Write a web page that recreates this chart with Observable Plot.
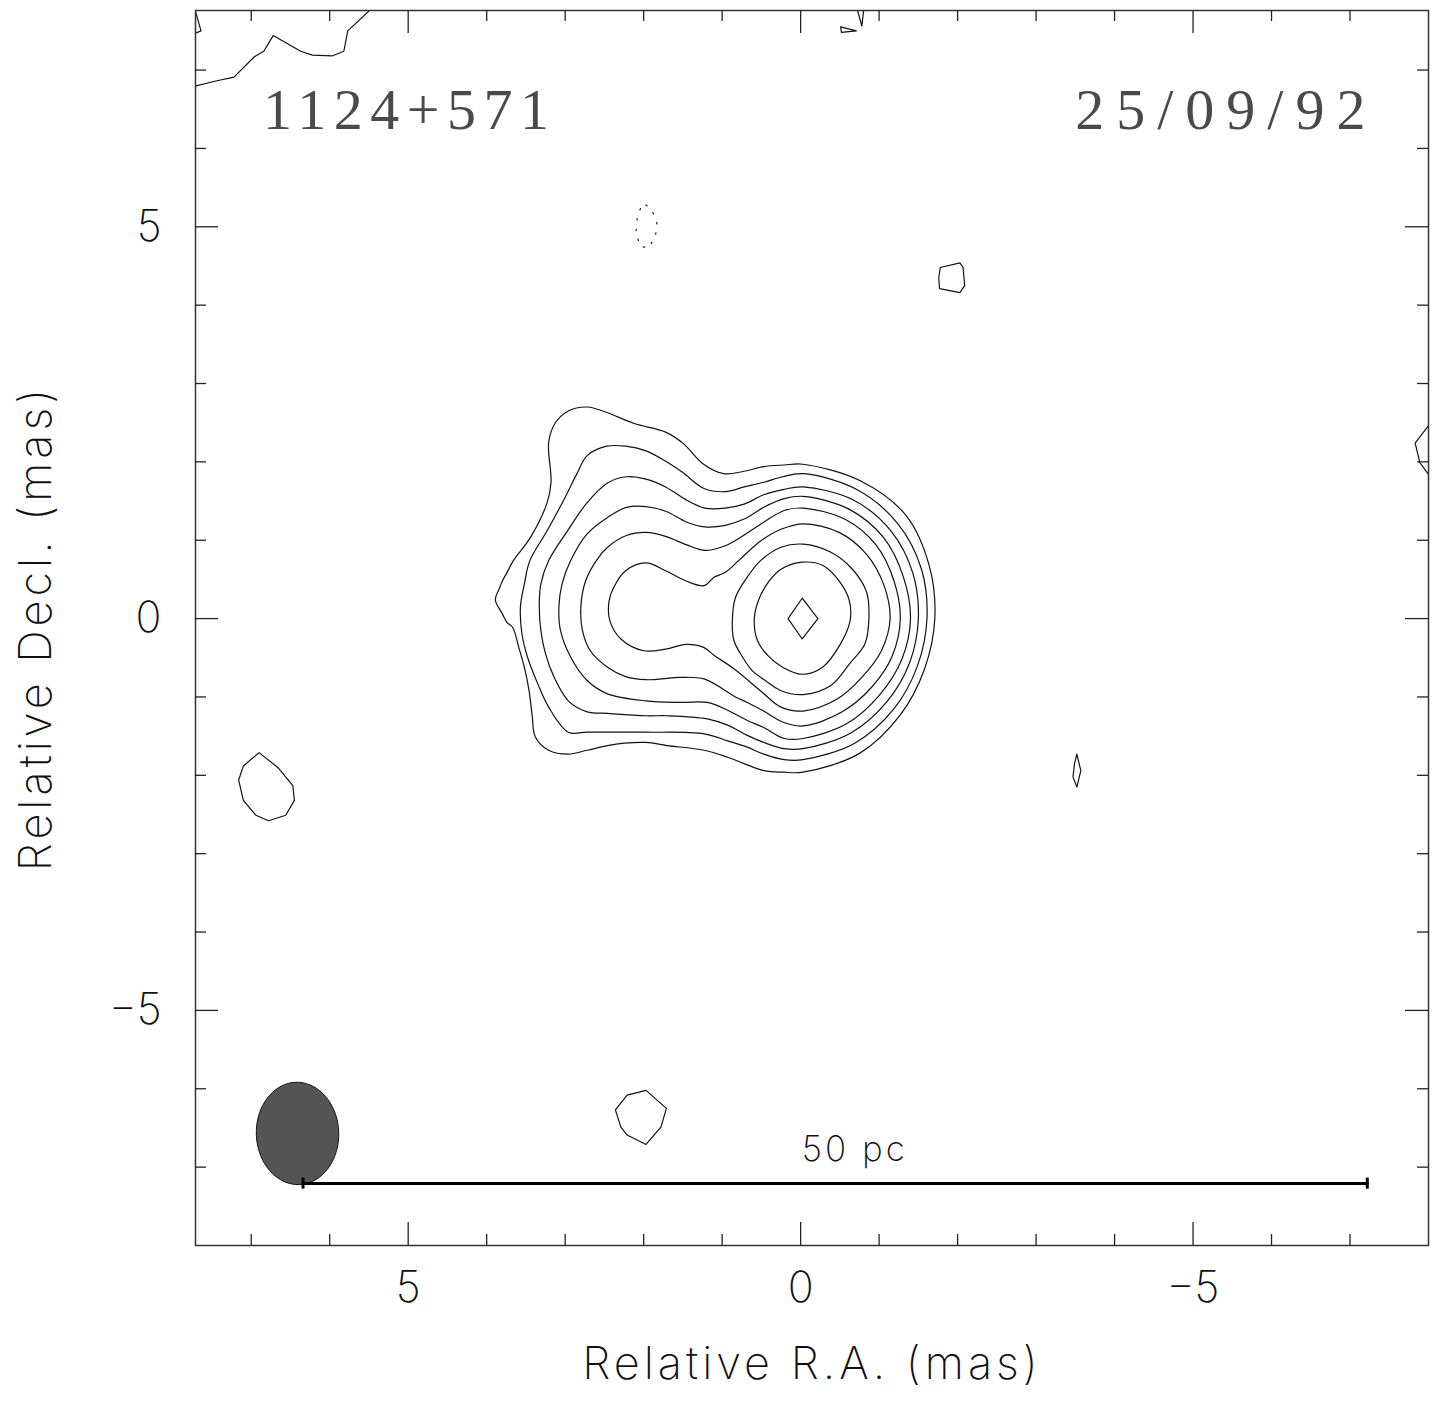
<!DOCTYPE html>
<html>
<head>
<meta charset="utf-8">
<script src="https://cdn.jsdelivr.net/npm/d3@7"></script>
<script src="https://cdn.jsdelivr.net/npm/@observablehq/plot@0.6"></script>
<style>
  html, body { margin: 0; padding: 0; background: #fff; }
  #chart svg { display: block; }
</style>
</head>
<body>
<div id="chart"></div>
<script>
// ---------- data (mas) ----------
const raRange = [7.71, -8.0];
const decRange = [-8.0, 7.76];
const majorTicks = [5, 0, -5];
const minorTicks = [7, 6, 4, 3, 2, 1, -1, -2, -3, -4, -6, -7];

const sourceName = "1124+571";
const epoch = "25/09/92";
const xTitle = "Relative R.A. (mas)";
const yTitle = "Relative Decl. (mas)";

// closed contours of the main source, outermost (1) to innermost (9)
const level1 = [[-0.03,1.97],[-0.76,1.76],[-1.34,1.32],[-1.64,0.67],[-1.71,0.00],[-1.58,-0.64],[-1.27,-1.23],[-0.75,-1.72],[-0.03,-1.96],
  [0.21,-1.96],[0.47,-1.94],[0.72,-1.85],[0.93,-1.77],[1.23,-1.68],[1.70,-1.62],[1.97,-1.58],[2.25,-1.59],[2.46,-1.62],[2.72,-1.68],[2.96,-1.73],[3.21,-1.68],[3.38,-1.51],[3.42,-1.24],[3.46,-0.92],[3.52,-0.62],[3.59,-0.37],[3.67,-0.11],[3.74,-0.05],[3.80,0.06],[3.89,0.24],[3.84,0.38],[3.80,0.48],[3.74,0.59],[3.66,0.74],[3.44,1.04],[3.23,1.48],[3.18,1.74],[3.21,2.25],[3.13,2.49],[2.96,2.65],[2.72,2.70],[2.47,2.63],[2.12,2.49],[1.72,2.38],[1.49,2.23],[1.25,1.98],[0.98,1.85],[0.72,1.88],[0.47,1.94],[0.21,1.96]];
const level2 = [[-0.03,1.85],[-0.71,1.65],[-1.24,1.21],[-1.54,0.63],[-1.61,0.00],[-1.49,-0.60],[-1.19,-1.15],[-0.69,-1.59],[-0.03,-1.80],
  [0.21,-1.80],[0.47,-1.73],[0.68,-1.64],[0.93,-1.56],[1.23,-1.47],[1.97,-1.45],[2.72,-1.45],[2.96,-1.45],[3.21,-1.13],[3.35,-0.83],[3.48,-0.49],[3.55,-0.20],[3.57,0.15],[3.52,0.44],[3.45,0.74],[3.23,1.12],[3.02,1.51],[2.85,1.85],[2.72,2.08],[2.47,2.20],[2.23,2.20],[1.97,2.14],[1.74,2.02],[1.51,1.87],[1.23,1.66],[0.96,1.62],[0.72,1.68],[0.47,1.74],[0.23,1.81]];
const level3 = [[-0.03,1.68],[-0.66,1.52],[-1.15,1.12],[-1.43,0.58],[-1.50,0.00],[-1.39,-0.56],[-1.10,-1.06],[-0.64,-1.46],[-0.03,-1.66],
  [0.21,-1.66],[0.47,-1.58],[0.68,-1.49],[0.93,-1.36],[1.19,-1.28],[1.70,-1.24],[1.97,-1.24],[2.46,-1.21],[2.72,-1.19],[2.96,-1.05],[3.14,-0.75],[3.25,-0.45],[3.31,-0.15],[3.33,0.15],[3.31,0.44],[3.21,0.74],[2.97,1.12],[2.72,1.48],[2.46,1.73],[2.22,1.81],[1.97,1.78],[1.72,1.68],[1.45,1.51],[1.22,1.41],[0.96,1.41],[0.72,1.46],[0.47,1.58],[0.21,1.65]];
const level4 = [[-0.03,1.56],[-0.61,1.40],[-1.06,1.03],[-1.31,0.53],[-1.40,0.00],[-1.29,-0.52],[-1.01,-0.97],[-0.59,-1.34],[-0.03,-1.53],
  [0.21,-1.53],[0.47,-1.39],[0.68,-1.30],[0.93,-1.17],[1.19,-1.07],[1.53,-1.07],[1.97,-1.05],[2.46,-0.96],[2.72,-0.79],[2.93,-0.49],[3.06,-0.15],[3.08,0.15],[3.04,0.44],[2.93,0.74],[2.72,1.08],[2.46,1.29],[2.22,1.42],[1.97,1.43],[1.72,1.37],[1.45,1.23],[1.22,1.17],[0.96,1.19],[0.72,1.27],[0.47,1.42],[0.21,1.53]];
const level5 = [[-0.03,1.41],[-0.56,1.27],[-0.96,0.94],[-1.19,0.48],[-1.27,0.00],[-1.17,-0.47],[-0.91,-0.87],[-0.53,-1.19],[-0.03,-1.37],
  [0.23,-1.32],[0.47,-1.18],[0.68,-1.07],[0.83,-1.00],[1.23,-0.77],[1.53,-0.75],[1.97,-0.78],[2.23,-0.74],[2.46,-0.62],[2.68,-0.41],[2.78,-0.15],[2.80,0.15],[2.74,0.48],[2.59,0.76],[2.46,0.91],[2.22,1.06],[1.97,1.10],[1.72,1.05],[1.45,0.94],[1.22,0.87],[0.96,0.93],[0.76,1.04],[0.47,1.23],[0.21,1.38]];
const level6 = [[-0.03,1.21],[-0.49,1.10],[-0.84,0.82],[-1.06,0.43],[-1.14,0.00],[-1.03,-0.41],[-0.78,-0.75],[-0.46,-1.03],[-0.03,-1.18],
  [0.25,-1.13],[0.49,-0.94],[0.85,-0.64],[1.10,-0.47],[1.23,-0.37],[1.46,-0.33],[1.72,-0.39],[2.00,-0.41],[2.29,-0.26],[2.43,-0.03],[2.44,0.23],[2.38,0.40],[2.23,0.61],[1.97,0.71],[1.72,0.61],[1.46,0.48],[1.23,0.42],[1.10,0.53],[0.96,0.59],[0.79,0.74],[0.51,0.99],[0.25,1.14]];
const level7 = [[-0.03,0.95],[-0.38,0.85],[-0.66,0.63],[-0.84,0.34],[-0.87,0.00],[-0.82,-0.32],[-0.62,-0.58],[-0.39,-0.85],[-0.03,-0.97],
  [0.25,-0.92],[0.45,-0.79],[0.62,-0.66],[0.74,-0.49],[0.85,-0.28],[0.87,-0.03],[0.83,0.27],[0.68,0.53],[0.51,0.74],[0.25,0.91]];
const level8 = [[-0.02,0.72],[-0.28,0.68],[-0.49,0.48],[-0.62,0.23],[-0.63,-0.03],[-0.51,-0.32],[-0.28,-0.62],[-0.02,-0.71],[0.23,-0.62],[0.42,-0.47],[0.55,-0.28],[0.59,0.00],[0.53,0.25],[0.40,0.48],[0.25,0.63]];
const level9 = [[-0.02,0.26],[-0.22,0.00],[-0.02,-0.26],[0.16,0.00]];

// isolated closed noise contours
const blobNE = [[-1.78,4.48],[-2.03,4.54],[-2.07,4.48],[-2.09,4.25],[-2.03,4.16],[-1.77,4.21],[-1.76,4.35]];
const blobW = [[6.90,-1.71],[6.65,-1.91],[6.47,-2.13],[6.45,-2.32],[6.56,-2.51],[6.78,-2.58],[6.94,-2.51],[7.10,-2.32],[7.16,-2.06],[7.10,-1.88]];
const blobS = [[2.36,-6.27],[2.21,-6.08],[1.97,-6.02],[1.71,-6.25],[1.78,-6.49],[1.97,-6.71],[2.21,-6.59],[2.29,-6.49]];
const blobE = [[-3.52,-1.73],[-3.57,-1.94],[-3.52,-2.15],[-3.47,-2.02],[-3.49,-1.85]];
const blobTop = [[-0.51,7.55],[-0.71,7.50],[-0.52,7.48]];
// contours cut by the frame
const edgeTopLeft = [[7.78,6.78],[7.45,6.86],[7.22,6.91],[6.96,7.17],[6.84,7.24],[6.72,7.44],[6.37,7.24],[6.22,7.19],[5.97,7.18],[5.82,7.24],[5.77,7.50],[5.45,7.80]];
const edgeCorner = [[7.73,7.82],[7.64,7.50],[7.78,7.44]];
const edgeTopMid = [[-0.71,7.82],[-0.78,7.56],[-0.81,7.82]];
const edgeRight = [[-8.05,2.53],[-7.83,2.24],[-7.89,1.99],[-8.05,1.77]];
// negative contour (dotted)
const negContour = [[1.97,5.28],[1.89,5.20],[1.83,5.05],[1.85,4.87],[1.94,4.73],[2.04,4.75],[2.10,4.92],[2.08,5.13],[2.03,5.26]];

// restoring beam: centre (mas), semi-axes (mas), position angle (deg)
const beamCentre = [6.41, -6.57];
const beamAxes = [0.653, 0.525];
const beamPA = 2;

// linear scale bar
const scaleBarX = [6.34, -7.22];
const scaleBarY = -7.21;
const scaleBarLabel = "50 pc";

// ---------- tables built from the arrays ----------
const smoothSets = [level1, level2, level3, level4, level5, level6, level7, level8];
const smoothRows = smoothSets.flatMap((pts, i) => pts.map(([x, y]) => ({id: i, x, y})));
const closedSets = [level9, blobNE, blobW, blobS, blobE, blobTop];
const closedRows = closedSets.flatMap((pts, i) => pts.map(([x, y]) => ({id: i, x, y})));
const openSets = [edgeTopLeft, edgeCorner, edgeTopMid, edgeRight];
const openRows = openSets.flatMap((pts, i) => pts.map(([x, y]) => ({id: i, x, y})));
const negRows = negContour.map(([x, y]) => ({x, y}));

const beamRows = d3.range(0, 72).map(k => {
  const t = (k / 72) * 2 * Math.PI;
  const pa = beamPA * Math.PI / 180;
  const u = beamAxes[1] * Math.cos(t), v = beamAxes[0] * Math.sin(t);
  return {x: beamCentre[0] + u * Math.cos(pa) + v * Math.sin(pa),
          y: beamCentre[1] - u * Math.sin(pa) + v * Math.cos(pa)};
});

// ---------- layout ----------
const W = 1437, H = 1404;
const mL = 195, mR = 9, mT = 10, mB = 159;
const plotW = W - mL - mR, plotH = H - mT - mB;
const majLen = 23, minLen = 11;
const sans = "Inter, 'DejaVu Sans', sans-serif";
const serif = "'Liberation Serif', 'DejaVu Serif', serif";
const fmt = d3.format("d");
const ink = "#111";
const label = {fontFamily: sans, fontWeight: 200, fill: ink};

const chart = Plot.plot({
  width: W, height: H,
  marginLeft: mL, marginRight: mR, marginTop: mT, marginBottom: mB,
  x: {domain: raRange, axis: null},
  y: {domain: decRange, axis: null},
  style: {background: "#fff", color: ink},
  marks: [
    // beam
    Plot.line(beamRows, {x: "x", y: "y", curve: "linear-closed", fill: "#555", stroke: "#111", strokeWidth: 1}),
    // contours
    Plot.line(smoothRows, {x: "x", y: "y", z: "id", curve: "catmull-rom-closed", stroke: ink, strokeWidth: 1.2, clip: true}),
    Plot.line(closedRows, {x: "x", y: "y", z: "id", curve: "linear-closed", stroke: ink, strokeWidth: 1.2, clip: true}),
    Plot.line(openRows, {x: "x", y: "y", z: "id", stroke: ink, strokeWidth: 1.2, clip: true}),
    Plot.line(negRows, {x: "x", y: "y", curve: "linear-closed", stroke: ink, strokeWidth: 1.2, strokeDasharray: "1.5,9"}),
    // scale bar
    Plot.line(scaleBarX.map(x => ({x, y: scaleBarY})), {x: "x", y: "y", stroke: "#000", strokeWidth: 3}),
    Plot.ruleX(scaleBarX, {x: d => d, y1: scaleBarY - 0.07, y2: scaleBarY + 0.07, stroke: "#000", strokeWidth: 3}),
    Plot.text([scaleBarLabel], {x: -0.69, y: scaleBarY, dy: -34, text: d => d, fontSize: 35, ...label}),
    // frame and inward ticks on all four sides
    Plot.frame({stroke: "#333", strokeWidth: 1.5}),
    Plot.tickX(majorTicks, {x: d => d, insetBottom: plotH - majLen, stroke: "#222", strokeWidth: 1.3}),
    Plot.tickX(majorTicks, {x: d => d, insetTop: plotH - majLen, stroke: "#222", strokeWidth: 1.3}),
    Plot.tickX(minorTicks, {x: d => d, insetBottom: plotH - minLen, stroke: "#222", strokeWidth: 1.3}),
    Plot.tickX(minorTicks, {x: d => d, insetTop: plotH - minLen, stroke: "#222", strokeWidth: 1.3}),
    Plot.tickY(majorTicks, {y: d => d, insetRight: plotW - majLen, stroke: "#222", strokeWidth: 1.3}),
    Plot.tickY(majorTicks, {y: d => d, insetLeft: plotW - majLen, stroke: "#222", strokeWidth: 1.3}),
    Plot.tickY(minorTicks, {y: d => d, insetRight: plotW - minLen, stroke: "#222", strokeWidth: 1.3}),
    Plot.tickY(minorTicks, {y: d => d, insetLeft: plotW - minLen, stroke: "#222", strokeWidth: 1.3}),
    // tick labels
    Plot.text(majorTicks, {x: d => d, frameAnchor: "bottom", textAnchor: "middle", dy: 56, text: d => fmt(d), fontSize: 43, ...label}),
    Plot.text(majorTicks, {y: d => d, frameAnchor: "left", dx: -34, textAnchor: "end", text: d => fmt(d), fontSize: 43, ...label}),
    // axis titles
    Plot.text([xTitle], {frameAnchor: "bottom", textAnchor: "middle", dy: 133, text: d => d, fontSize: 45, ...label}),
    Plot.text([yTitle], {frameAnchor: "left", textAnchor: "middle", dx: -159, rotate: -90, text: d => d, fontSize: 45, ...label}),
    // source name and epoch
    Plot.text([sourceName], {x: 6.85, y: 6.25, textAnchor: "start", lineAnchor: "bottom", text: d => d,
      fontSize: 58, fontFamily: serif, fontWeight: 300, fill: "#4a4a4a"}),
    Plot.text([epoch], {x: -7.35, y: 6.25, textAnchor: "end", lineAnchor: "bottom", text: d => d,
      fontSize: 58, fontFamily: serif, fontWeight: 300, fill: "#4a4a4a"})
  ]
});

document.getElementById("chart").appendChild(chart);

// widen the letter spacing of the Hershey-style labels
d3.select(chart).selectAll("text").each(function() {
  const t = this.textContent;
  if (t === sourceName) d3.select(this).attr("letter-spacing", 7.5);
  if (t === epoch) d3.select(this).attr("letter-spacing", 12);
  if (t === xTitle || t === yTitle) d3.select(this).attr("letter-spacing", 4);
  if (t === scaleBarLabel) d3.select(this).attr("letter-spacing", 3);
});
</script>
</body>
</html>
